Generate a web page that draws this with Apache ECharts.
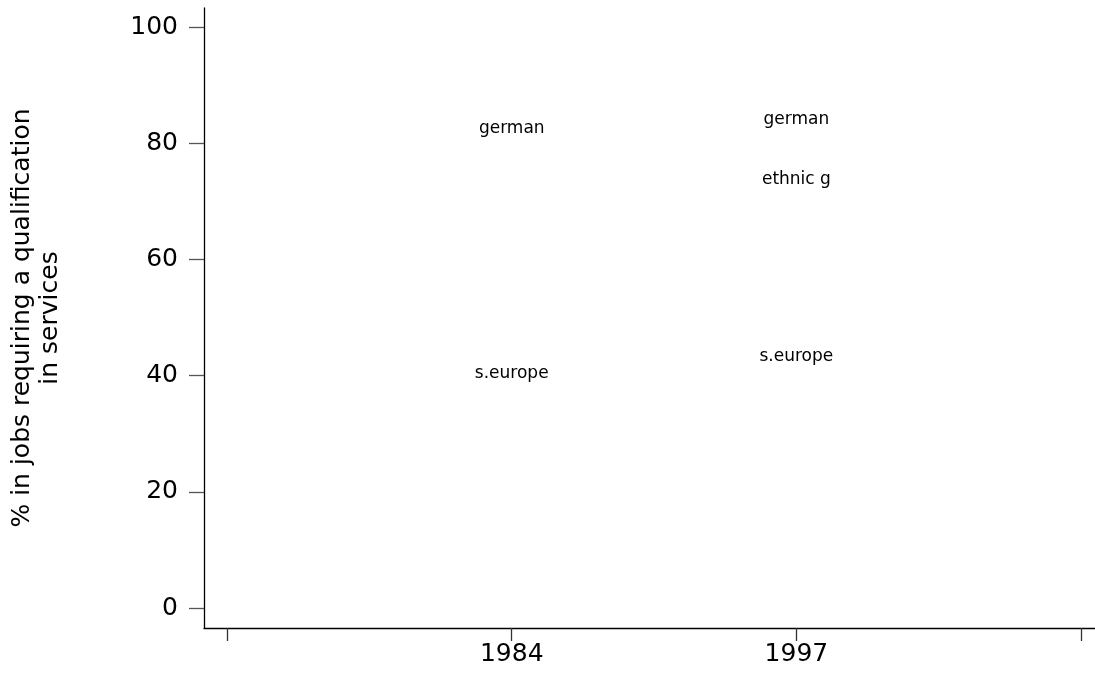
<!DOCTYPE html>
<html>
<head>
<meta charset="utf-8">
<script src="https://cdn.jsdelivr.net/npm/echarts@6/dist/echarts.min.js"></script>
<style>
  html, body { margin: 0; padding: 0; background: #fff; }
  #chart { width: 1095px; height: 674px; }
</style>
</head>
<body>
<div id="chart"></div>
<script>
// Survey years, placed at positions 1 and 2 of the x scale
const years = ['1984', '1997'];
const yearPos = [1, 2];
// Share (%) in jobs requiring a qualification in services, by group
const german = [82.6, 84.1];
const ethnicG = [null, 73.7];
const sEurope = [40.3, 43.3];
// Axis ticks
const yTicks = [0, 20, 40, 60, 80, 100];
const xTicks = [0, 1, 2, 3];

const FONT = 'DejaVu Sans';

function labelPoints(values, text) {
  const pts = [];
  values.forEach((v, i) => {
    if (v !== null) pts.push({ value: [yearPos[i], v], name: text });
  });
  return pts;
}

// Each group is drawn as its name centred on the point, with no symbol
function groupSeries(values, text) {
  return {
    type: 'scatter',
    name: text,
    symbolSize: 0,
    itemStyle: { opacity: 1 },
    data: labelPoints(values, text),
    label: {
      show: true,
      position: 'inside',
      formatter: p => p.name,
      color: '#000',
      opacity: 1,
      textBorderWidth: 0,
      fontFamily: FONT,
      fontSize: 17
    },
    emphasis: { disabled: true }
  };
}

const chart = echarts.init(document.getElementById('chart'), null, { renderer: 'canvas' });
chart.setOption({
  animation: false,
  backgroundColor: '#fff',
  grid: { left: 203, right: 0, top: 8, bottom: 46, containLabel: false },
  xAxis: {
    type: 'value',
    min: -0.081,
    max: 3.049,
    splitLine: { show: false },
    axisLine: { show: true, onZero: false, lineStyle: { color: '#000', width: 1.3 } },
    axisTick: {
      show: true,
      customValues: xTicks,
      length: 13,
      lineStyle: { color: '#333', width: 1.3 }
    },
    axisLabel: {
      customValues: yearPos,
      formatter: v => years[yearPos.indexOf(v)] || '',
      margin: 14,
      color: '#000',
      fontFamily: FONT,
      fontSize: 25
    }
  },
  yAxis: {
    type: 'value',
    min: -3.44,
    max: 103.3,
    splitLine: { show: false },
    axisLine: { show: true, onZero: false, lineStyle: { color: '#000', width: 1.3 } },
    axisTick: {
      show: true,
      customValues: yTicks,
      length: 15,
      lineStyle: { color: '#555', width: 1.3 }
    },
    axisLabel: {
      customValues: yTicks,
      margin: 26,
      color: '#000',
      fontFamily: FONT,
      fontSize: 25
    },
    name: '% in jobs requiring a qualification\nin services',
    nameLocation: 'middle',
    nameRotate: 90,
    nameGap: 140,
    nameTextStyle: {
      color: '#000',
      fontFamily: FONT,
      fontSize: 25,
      lineHeight: 28,
      align: 'center'
    }
  },
  series: [
    groupSeries(german, 'german'),
    groupSeries(ethnicG, 'ethnic g'),
    groupSeries(sEurope, 's.europe')
  ]
});
</script>
</body>
</html>
